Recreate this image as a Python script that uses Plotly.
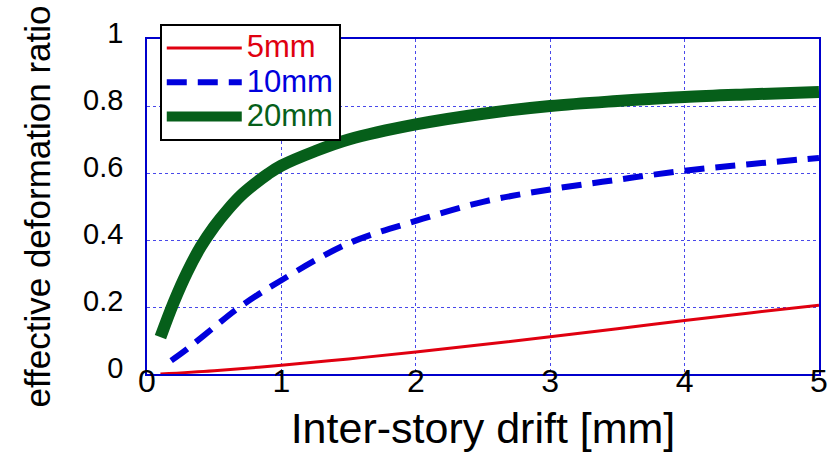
import plotly.graph_objects as go

# --- data ---
x_5mm = [0.1, 0.5, 1.0, 1.5, 2.0, 2.5, 3.0, 3.5, 4.0, 4.5, 5.0]
y_5mm = [0.0, 0.01, 0.026, 0.045, 0.066, 0.088, 0.111, 0.135, 0.16, 0.183, 0.205]

x_10mm = [0.18, 0.3, 0.5, 0.69, 1.0, 1.5, 2.0, 2.5, 3.0, 3.5, 4.0, 4.5, 5.0]
y_10mm = [0.04, 0.075, 0.14, 0.2, 0.28, 0.39, 0.457, 0.514, 0.551, 0.58, 0.607, 0.627, 0.645]

x_20mm = [0.1, 0.2, 0.3, 0.4, 0.5, 0.6, 0.7, 0.8, 0.9, 1.0, 1.25, 1.5, 2.0, 2.5, 3.0, 3.5, 4.0, 4.5, 5.0]
y_20mm = [0.11, 0.215, 0.305, 0.38, 0.44, 0.49, 0.533, 0.567, 0.597, 0.622, 0.665, 0.70, 0.745, 0.777, 0.80, 0.815, 0.827, 0.835, 0.842]

x_ticks = [0, 1, 2, 3, 4, 5]
y_ticks = [0, 0.2, 0.4, 0.6, 0.8, 1]
y_tick_labels = ["0", "0.2", "0.4", "0.6", "0.8", "1"]

RED = "#e00010"
BLUE = "#0000dd"
GREEN = "#065f1a"
FONT = "Liberation Sans, Arial, sans-serif"


def legend_label(text, color):
    return f"<span style='color:{color};font-size:31px'>{text}</span>"


fig = go.Figure()
fig.add_trace(go.Scatter(x=x_5mm, y=y_5mm, mode="lines", line=dict(color=RED, width=3, shape="spline"),
                         name=legend_label("5mm", RED)))
fig.add_trace(go.Scatter(x=x_10mm, y=y_10mm, mode="lines",
                         line=dict(color=BLUE, width=6, dash="20px,11px", shape="spline"),
                         name=legend_label("10mm", BLUE)))
fig.add_trace(go.Scatter(x=x_20mm, y=y_20mm, mode="lines", line=dict(color=GREEN, width=12, shape="spline"),
                         name=legend_label("20mm", GREEN)))

axis_common = dict(
    showline=True, linecolor="#0000cc", linewidth=1.5, mirror=True,
    showgrid=True, gridcolor="rgba(40,40,230,0.85)", gridwidth=1, griddash="dot",
    zeroline=False, ticks="", automargin=False,
)

fig.update_layout(
    width=828, height=455,
    margin=dict(l=147, r=9, t=39, b=81),
    paper_bgcolor="white", plot_bgcolor="white",
    font=dict(family=FONT, color="black"),
    xaxis=dict(range=[0, 5], tickvals=x_ticks, ticklabelstandoff=-22,
               tickfont=dict(family=FONT, size=32, color="black"),
               title=dict(text="Inter-story drift [mm]", font=dict(family=FONT, size=43), standoff=15),
               **axis_common),
    yaxis=dict(range=[0, 1], tickvals=y_ticks, ticktext=y_tick_labels, ticklabelstandoff=16,
               ticklabelshift=-6,
               tickfont=dict(family=FONT, size=29, color="black"),
               title=dict(text="effective deformation ratio", font=dict(family=FONT, size=35), standoff=22),
               **axis_common),
    legend=dict(x=0.019, y=1.045, xanchor="left", yanchor="top",
                bgcolor="white", bordercolor="black", borderwidth=2,
                font=dict(family=FONT, size=24), itemwidth=75,
                tracegroupgap=0),
)

fig.write_html("out.html")
